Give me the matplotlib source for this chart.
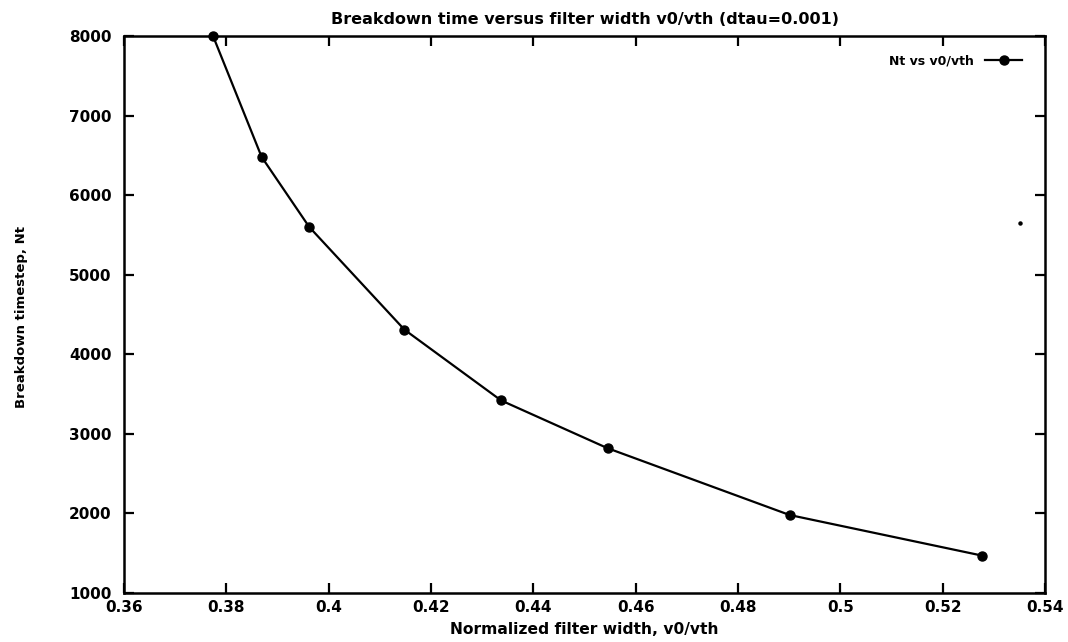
import matplotlib
matplotlib.use("Agg")
import matplotlib.pyplot as plt

plt.rcParams['font.family'] = ['DejaVu Sans']
plt.rcParams['font.weight'] = 'bold'

# Filter width v0/vth and breakdown timestep Nt
filter_width = [0.3774, 0.3869, 0.3962, 0.4148, 0.4337, 0.4545, 0.4901, 0.5277]
breakdown_nt = [8000, 6480, 5600, 4310, 3420, 2820, 1980, 1470]

# isolated point near the right edge
stray_x = [0.5352]
stray_y = [5650]

x_ticks = [0.36, 0.38, 0.40, 0.42, 0.44, 0.46, 0.48, 0.50, 0.52, 0.54]
x_tick_labels = ['0.36', '0.38', '0.4', '0.42', '0.44', '0.46', '0.48', '0.5', '0.52', '0.54']
y_ticks = [1000, 2000, 3000, 4000, 5000, 6000, 7000, 8000]

fig = plt.figure(figsize=(10.68, 6.42), dpi=100)
ax = fig.add_axes([124 / 1068, 1 - 593 / 642, (1045 - 124) / 1068, (593 - 36) / 642])

ax.plot(filter_width, breakdown_nt, color='black', lw=1.6, marker='o',
        markersize=6.5, label='Nt vs v0/vth', clip_on=False, zorder=3)
ax.plot(stray_x, stray_y, linestyle='none', marker='o', markersize=2.2,
        color='black')

ax.set_xlim(0.36, 0.54)
ax.set_ylim(1000, 8000)
ax.set_xticks(x_ticks)
ax.set_xticklabels(x_tick_labels)
ax.set_yticks(y_ticks)

for s in ax.spines.values():
    s.set_linewidth(1.8)
ax.tick_params(direction='in', length=7, width=1.6, top=True, right=True,
               labelsize=11)
ax.tick_params(axis='x', pad=5)
ax.tick_params(axis='y', pad=9)
for lab in ax.get_xticklabels() + ax.get_yticklabels():
    lab.set_fontweight('bold')

ax.set_title('Breakdown time versus filter width v0/vth (dtau=0.001)',
             fontsize=11.5, fontweight='bold', pad=9)
ax.set_xlabel('Normalized filter width, v0/vth', fontsize=11.2,
              fontweight='bold')
ax.xaxis.set_label_coords(0.5, -0.052)
ax.set_ylabel('Breakdown timestep, Nt', fontsize=9.5, fontweight='bold')
ax.yaxis.set_label_coords(-0.104, 0.495)

leg = ax.legend(loc='upper right', frameon=False, markerfirst=False,
                handlelength=3.0, fontsize=9, borderaxespad=0.9,
                handletextpad=0.9, bbox_to_anchor=(0.993, 0.996))
for t in leg.get_texts():
    t.set_fontweight('bold')

fig.savefig('out.png', dpi=100, facecolor='white')
